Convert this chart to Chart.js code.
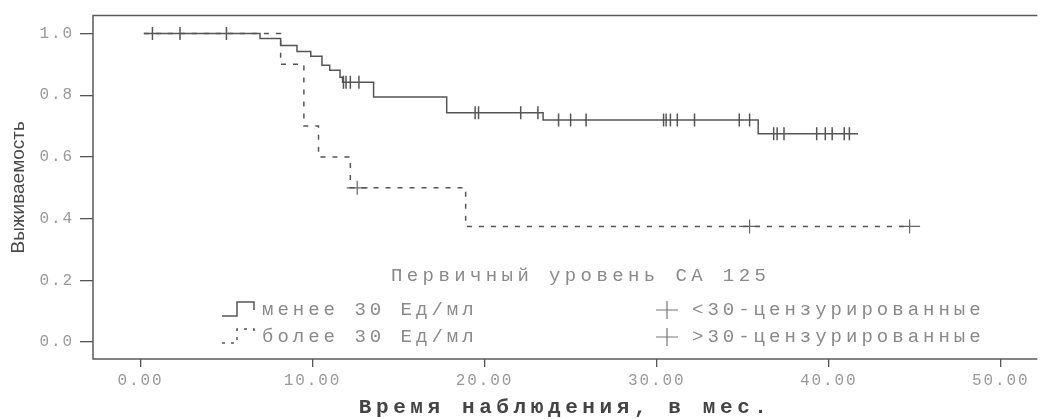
<!DOCTYPE html>
<html lang="ru">
<head>
<meta charset="UTF-8">
<title>Выживаемость по уровню CA 125</title>
<style>
  body { margin: 0; background: #fff; }
  #chart { display: block; }
</style>
</head>
<body>
<canvas id="chart" width="1049" height="419"></canvas>
<script src="https://cdn.jsdelivr.net/npm/chart.js"></script>
<script>
// менее 30 Ед/мл: моменты событий (мес.) и оценка выживаемости после них
const lowTimes = [0.2, 6.95, 8.15, 9.1, 9.9, 10.55, 11.0, 11.6, 11.75, 13.55, 17.8, 23.4, 35.9, 41.7];
const lowSurv  = [1.0, 0.984, 0.961, 0.942, 0.926, 0.897, 0.881, 0.858, 0.842, 0.794, 0.743, 0.72, 0.675, 0.675];
// цензурированные наблюдения (<30)
const lowCensTimes = [0.7, 2.3, 5.0, 11.8, 11.95, 12.2, 12.7, 19.45, 19.65, 22.1, 23.1,
                      24.3, 25.0, 25.9, 30.4, 30.55, 30.8, 31.2, 32.2, 34.8, 35.4,
                      36.8, 37.0, 37.4, 39.3, 39.8, 40.2, 40.9, 41.2];
const lowCensSurv  = [1.0, 1.0, 1.0, 0.842, 0.842, 0.842, 0.842, 0.743, 0.743, 0.743, 0.743,
                      0.72, 0.72, 0.72, 0.72, 0.72, 0.72, 0.72, 0.72, 0.72, 0.72,
                      0.675, 0.675, 0.675, 0.675, 0.675, 0.675, 0.675, 0.675];

// более 30 Ед/мл
const highTimes = [0.2, 8.15, 9.5, 10.35, 12.2, 18.9, 44.7];
const highSurv  = [1.0, 0.9, 0.7, 0.6, 0.5, 0.375, 0.375];
const highCensTimes = [12.6, 35.4, 44.7];
const highCensSurv  = [0.5, 0.375, 0.375];

const xTicks = [0, 10, 20, 30, 40, 50];
const yTicks = [0, 0.2, 0.4, 0.6, 0.8, 1.0];
const xTitle = 'Время наблюдения, в мес.';
const yTitle = 'Выживаемость';
const legendTitle = 'Первичный уровень CA 125';
const legendLabels = ['менее 30 Ед/мл', 'более 30 Ед/мл', '<30-цензурированные', '>30-цензурированные'];

const ink = '#555';
const grayText = '#8a8a8a';

const toXY = (xs, ys) => xs.map((x, i) => ({ x: x, y: ys[i] }));

// рамка: верх, лево, низ (справа рамки нет)
const framePlugin = {
  id: 'frame',
  beforeDatasetsDraw(chart) {
    const { ctx, chartArea: a } = chart;
    ctx.save();
    ctx.strokeStyle = '#5a5a5a';
    ctx.lineWidth = 1.5;
    ctx.beginPath();
    ctx.moveTo(a.right, a.top);
    ctx.lineTo(a.left, a.top);
    ctx.lineTo(a.left, a.bottom);
    ctx.lineTo(a.right, a.bottom);
    ctx.stroke();
    ctx.restore();
  }
};

// разреженный моноширинный шрифт, как на скане
const titleSpacing = { x: '4.6px', y: '0px' };
const spacingPlugin = {
  id: 'spacing',
  afterLayout(chart) {
    Object.values(chart.scales).forEach(s => {
      if (s._spaced) return;
      const orig = s.drawTitle;
      s.drawTitle = function () {
        this.ctx.save();
        this.ctx.letterSpacing = titleSpacing[this.id] || '0px';
        orig.call(this);
        this.ctx.restore();
      };
      s._spaced = true;
    });
  },
  beforeDraw(chart) {
    chart.ctx.letterSpacing = '1.9px';
  }
};

// легенда внутри области графика
const legendPlugin = {
  id: 'kmLegend',
  afterDraw(chart) {
    const ctx = chart.ctx;
    ctx.save();
    ctx.fillStyle = grayText;
    ctx.textBaseline = 'middle';
    ctx.textAlign = 'left';
    ctx.font = '19px "Liberation Mono"';
    ctx.letterSpacing = '4.4px';
    ctx.fillText(legendTitle, 391, 276);
    ctx.letterSpacing = '4.0px';
    const rows = [310, 337];
    ctx.fillText(legendLabels[0], 262, rows[0]);
    ctx.fillText(legendLabels[1], 262, rows[1]);
    ctx.fillText(legendLabels[2], 692, rows[0]);
    ctx.fillText(legendLabels[3], 692, rows[1]);

    // значки ступенек
    ctx.strokeStyle = ink;
    ctx.lineWidth = 1.5;
    rows.forEach((y, i) => {
      ctx.setLineDash(i === 0 ? [] : [3, 6]);
      ctx.beginPath();
      ctx.moveTo(222, y + 6);
      ctx.lineTo(237, y + 6);
      ctx.lineTo(237, y - 8);
      ctx.lineTo(254, y - 8);
      ctx.lineTo(254, y);
      ctx.stroke();
    });
    ctx.setLineDash([]);
    // значки цензурирования
    ctx.strokeStyle = '#777';
    ctx.lineWidth = 1.2;
    rows.forEach(y => {
      ctx.beginPath();
      ctx.moveTo(656, y);
      ctx.lineTo(678, y);
      ctx.moveTo(667, y - 9);
      ctx.lineTo(667, y + 9);
      ctx.stroke();
    });
    ctx.restore();
  }
};

const monoTicks = { family: '"Liberation Mono", monospace', size: 16 };

new Chart(document.getElementById('chart'), {
  type: 'scatter',
  data: {
    datasets: [
      {
        label: legendLabels[0],
        data: toXY(lowTimes, lowSurv),
        showLine: true,
        stepped: 'before',
        borderColor: ink,
        borderWidth: 1.5,
        pointRadius: 0
      },
      {
        label: legendLabels[1],
        data: toXY(highTimes, highSurv),
        showLine: true,
        stepped: 'before',
        borderColor: ink,
        borderWidth: 1.5,
        borderDash: [5, 7],
        pointRadius: 0
      },
      {
        label: legendLabels[2],
        data: toXY(lowCensTimes, lowCensSurv),
        pointStyle: 'line',
        rotation: 90,
        radius: 6.5,
        borderColor: ink,
        borderWidth: 1.5
      },
      {
        label: legendLabels[3],
        data: toXY(highCensTimes, highCensSurv),
        pointStyle: 'line',
        radius: 10.5,
        borderColor: '#666',
        borderWidth: 1.2
      },
      {
        label: legendLabels[3] + ' (верт.)',
        data: toXY(highCensTimes, highCensSurv),
        pointStyle: 'line',
        rotation: 90,
        radius: 7,
        borderColor: '#666',
        borderWidth: 1.2
      }
    ]
  },
  options: {
    responsive: false,
    animation: false,
    layout: { padding: { top: 13, left: 0, right: 0, bottom: 0 } },
    plugins: {
      legend: { display: false },
      tooltip: { enabled: false }
    },
    scales: {
      x: {
        type: 'linear',
        min: -2.755,
        max: 52.12,
        afterBuildTicks: s => { s.ticks = xTicks.map(v => ({ value: v })); },
        afterFit: s => { s.height = 60; },
        border: { display: false },
        grid: { drawOnChartArea: false, tickLength: 8, color: ink, lineWidth: 1.3 },
        ticks: {
          color: '#999',
          font: monoTicks,
          padding: 4,
          maxRotation: 0,
          autoSkip: false,
          callback: v => Number(v).toFixed(2)
        },
        title: {
          display: true,
          text: xTitle,
          color: '#444',
          font: { family: '"Liberation Mono", monospace', size: 21, weight: 'bold' },
          padding: { top: 0, bottom: -1 }
        }
      },
      y: {
        type: 'linear',
        min: -0.0547,
        max: 1.058,
        afterBuildTicks: s => { s.ticks = yTicks.map(v => ({ value: v })); },
        afterFit: s => { s.width = 93; },
        border: { display: false },
        grid: { drawOnChartArea: false, tickLength: 13, color: ink, lineWidth: 1.3 },
        ticks: {
          color: '#999',
          font: monoTicks,
          padding: 6,
          callback: v => Number(v).toFixed(1)
        },
        title: {
          display: true,
          text: yTitle,
          color: '#4a4a4a',
          font: { family: '"Liberation Sans Narrow", "Liberation Sans", Arial, sans-serif', size: 19 },
          padding: { top: 7, bottom: 0 }
        }
      }
    }
  },
  plugins: [framePlugin, spacingPlugin, legendPlugin]
});
</script>
</body>
</html>
